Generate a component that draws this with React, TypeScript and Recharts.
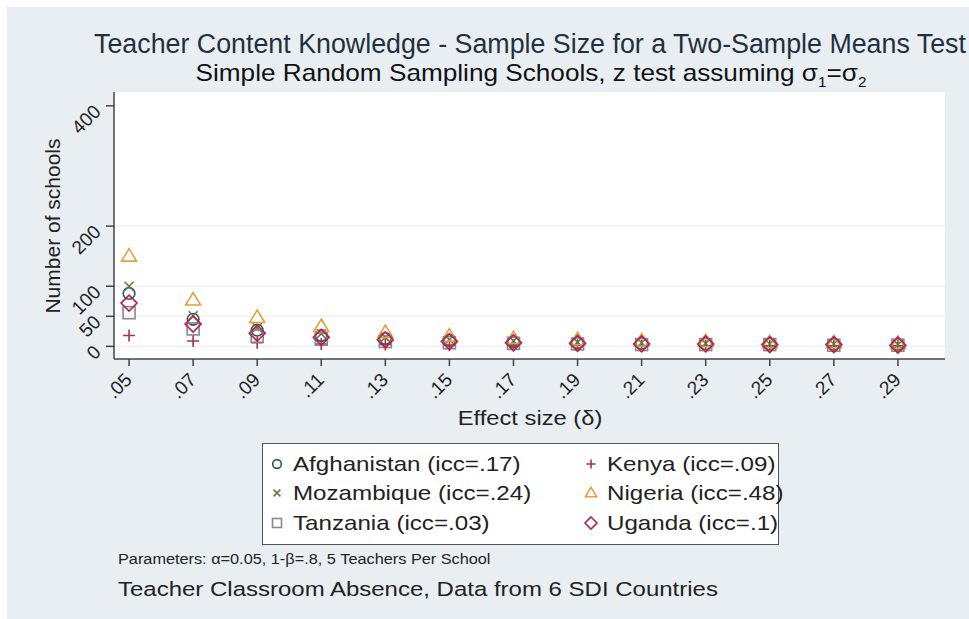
import { CartesianGrid, ReferenceLine, Scatter, ScatterChart, XAxis, YAxis } from "recharts";

const FONT = '"Liberation Sans", Arial, sans-serif';

// effect sizes on the x axis
const effectSizes = [0.05, 0.07, 0.09, 0.11, 0.13, 0.15, 0.17, 0.19, 0.21, 0.23, 0.25, 0.27, 0.29];

// number of schools
const afghanistan = [88, 45, 27, 18, 13, 10, 8, 6, 5, 4, 4, 3, 3];
const kenya = [18, 9, 6, 4, 3, 2, 2, 2, 1, 1, 1, 1, 1];
const mozambique = [100, 51, 31, 21, 15, 11, 9, 7, 6, 5, 4, 4, 3];
const nigeria = [150, 77, 48, 33, 23, 17, 13, 11, 9, 8, 6, 6, 5];
const tanzania = [56, 29, 17, 12, 8, 6, 5, 4, 3, 3, 3, 2, 2];
const uganda = [72, 37, 22, 15, 11, 8, 6, 5, 4, 4, 3, 3, 2];

const yTicks = [0, 50, 100, 200, 400];
const gridValues = [0, 50, 100, 200];

type Kind = "circle" | "plus" | "x" | "triangle" | "square" | "diamond";

const SERIES: { name: string; values: number[]; color: string; kind: Kind }[] = [
  { name: "Afghanistan (icc=.17)", values: afghanistan, color: "#34506d", kind: "circle" },
  { name: "Kenya (icc=.09)", values: kenya, color: "#a3344b", kind: "plus" },
  { name: "Mozambique (icc=.24)", values: mozambique, color: "#5b7f3c", kind: "x" },
  { name: "Nigeria (icc=.48)", values: nigeria, color: "#e3a13c", kind: "triangle" },
  { name: "Tanzania (icc=.03)", values: tanzania, color: "#858a8c", kind: "square" },
  { name: "Uganda (icc=.1)", values: uganda, color: "#b8204f", kind: "diamond" },
];

function Marker({ kind, color, cx, cy, s = 1 }: { kind: Kind; color: string; cx: number; cy: number; s?: number }) {
  const p = { fill: "none", stroke: color, strokeWidth: 1.6 };
  if (kind === "circle") return <circle cx={cx} cy={cy} r={5.8 * s} {...p} />;
  if (kind === "square") return <rect x={cx - 6 * s} y={cy - 6 * s} width={12 * s} height={12 * s} {...p} />;
  if (kind === "plus")
    return <path d={`M${cx - 6 * s},${cy}H${cx + 6 * s}M${cx},${cy - 6 * s}V${cy + 6 * s}`} {...p} />;
  if (kind === "x")
    return <path d={`M${cx - 4.5 * s},${cy - 4.5 * s}L${cx + 4.5 * s},${cy + 4.5 * s}M${cx - 4.5 * s},${cy + 4.5 * s}L${cx + 4.5 * s},${cy - 4.5 * s}`} {...p} />;
  if (kind === "triangle")
    return <path d={`M${cx},${cy - 7.5 * s}L${cx + 7.5 * s},${cy + 5 * s}L${cx - 7.5 * s},${cy + 5 * s}Z`} {...p} />;
  return <path d={`M${cx},${cy - 8 * s}L${cx + 8 * s},${cy}L${cx},${cy + 8 * s}L${cx - 8 * s},${cy}Z`} {...p} />;
}

const fmtX = (v: number) => v.toFixed(2).replace(/^0/, "");

const XTick = ({ x, y, payload }: any) => (
  <text x={x + 4} y={y + 13} transform={`rotate(-45 ${x + 4} ${y + 13})`} textAnchor="end"
    fontFamily={FONT} fontSize={19} fill="#222">
    {fmtX(payload.value)}
  </text>
);

const YTick = ({ x, y, payload }: any) => (
  <text x={x - 2} y={y + 7} transform={`rotate(-45 ${x - 2} ${y + 7})`} textAnchor="end"
    fontFamily={FONT} fontSize={19} fill="#222">
    {payload.value}
  </text>
);

const legendOrder = [0, 1, 2, 3, 4, 5];

const stretch = (sx: number): React.CSSProperties => ({ display: "inline-block", transform: `scaleX(${sx})`, transformOrigin: "left center" });

export default function App() {
  return (
    <div style={{ position: "absolute", left: 0, top: 0, width: 969, height: 619, background: "#fff", fontFamily: FONT }}>
      <div style={{ position: "absolute", left: 7, top: 7, width: 962, height: 612, background: "#e9eef2" }} />
      <div style={{ position: "absolute", left: 0, top: 0 }}>
        <ScatterChart width={969} height={619} margin={{ top: 92, right: 24, bottom: 210, left: 54 }}>
          <CartesianGrid fill="#fff" stroke="none" horizontal={false} vertical={false} />
          {gridValues.map((v) => (
            <ReferenceLine key={v} y={v} stroke="#eef1f4" strokeWidth={1.5} />
          ))}
          <XAxis type="number" dataKey="x" domain={[0.0453, 0.3047]} ticks={effectSizes} height={50}
            tick={<XTick />} tickSize={7} tickMargin={2} interval={0}
            axisLine={{ stroke: "#444", strokeWidth: 1.5 }} tickLine={{ stroke: "#444", strokeWidth: 1.5 }} />
          <YAxis type="number" dataKey="y" domain={[-21, 423]} ticks={yTicks} width={60}
            tick={<YTick />} tickSize={8} tickMargin={2} interval={0} allowDataOverflow
            axisLine={{ stroke: "#444", strokeWidth: 1.5 }} tickLine={{ stroke: "#444", strokeWidth: 1.5 }} />
          {SERIES.map((s) => (
            <Scatter key={s.name} name={s.name} isAnimationActive={false}
              data={effectSizes.map((x, i) => ({ x, y: s.values[i] }))}
              shape={(props: any) => <Marker kind={s.kind} color={s.color} cx={props.cx} cy={props.cy} />} />
          ))}
        </ScatterChart>
      </div>

      <div style={{ position: "absolute", left: 530, top: 29, transform: "translateX(-50%)", fontSize: 26.8, color: "#1f3140", whiteSpace: "nowrap" }}>
        Teacher Content Knowledge - Sample Size for a Two-Sample Means Test
      </div>
      <div style={{ position: "absolute", left: 531, top: 59, transform: "translateX(-50%) scaleX(1.09)", fontSize: 24, color: "#111", whiteSpace: "nowrap" }}>
        Simple Random Sampling Schools, z test assuming σ<sub style={{ fontSize: 14 }}>1</sub>=σ<sub style={{ fontSize: 14 }}>2</sub>
      </div>

      <div style={{ position: "absolute", left: 53, top: 226, transform: "translate(-50%, -50%) rotate(-90deg) scaleX(1.05)", fontSize: 20, color: "#222", whiteSpace: "nowrap" }}>
        Number of schools
      </div>
      <div style={{ position: "absolute", left: 530, top: 418, transform: "translate(-50%, -50%) scaleX(1.13)", fontSize: 21, color: "#222", whiteSpace: "nowrap" }}>
        Effect size (δ)
      </div>

      <div style={{ position: "absolute", left: 262, top: 443, width: 517, height: 102, border: "1.5px solid #555", background: "#fff", boxSizing: "border-box",
        display: "grid", gridTemplateColumns: "314px 200px", gridAutoRows: 29.5, paddingTop: 5 }}>
        {legendOrder.map((i) => {
          const s = SERIES[i];
          return (
            <div key={s.name} style={{ display: "flex", alignItems: "center", fontSize: 21, color: "#222", whiteSpace: "nowrap" }}>
              <svg width={28} height={20} style={{ flex: "none", marginLeft: 2 }}>
                <Marker kind={s.kind} color={s.color} cx={12} cy={10} s={0.75} />
              </svg>
              <span style={stretch(1.15)}>{s.name}</span>
            </div>
          );
        })}
      </div>

      <div style={{ position: "absolute", left: 118, top: 550, fontSize: 15.5, color: "#222", whiteSpace: "nowrap" }}>
        <span style={stretch(1.05)}>Parameters: α=0.05, 1-β=.8, 5 Teachers Per School</span>
      </div>
      <div style={{ position: "absolute", left: 118, top: 577, fontSize: 20.5, color: "#222", whiteSpace: "nowrap" }}>
        <span style={stretch(1.17)}>Teacher Classroom Absence, Data from 6 SDI Countries</span>
      </div>
    </div>
  );
}
